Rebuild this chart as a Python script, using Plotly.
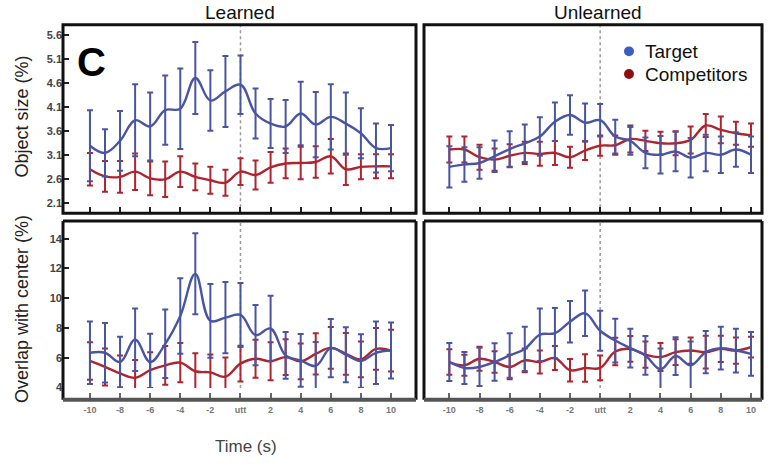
import plotly.graph_objects as go

# Time axis (seconds relative to utterance onset)
time_s = list(range(-10, 11))

# Object size (%) - Learned
size_learned_target = [3.30, 3.15, 3.40, 3.83, 3.70, 4.04, 4.07, 4.71, 4.24, 4.43, 4.57,
                       3.97, 3.76, 3.70, 3.97, 3.74, 3.90, 3.76, 3.56, 3.25, 3.25]
size_learned_target_err = [0.74, 0.49, 0.62, 0.75, 0.71, 0.72, 0.84, 0.75, 0.63, 0.74, 0.61,
                           0.52, 0.51, 0.55, 0.66, 0.68, 0.68, 0.65, 0.52, 0.51, 0.48]
size_learned_comp = [2.81, 2.66, 2.65, 2.76, 2.62, 2.60, 2.76, 2.65, 2.58, 2.53, 2.76,
                     2.69, 2.85, 2.93, 2.94, 2.96, 3.08, 2.81, 2.86, 2.87, 2.87]
size_learned_comp_err = [0.34, 0.32, 0.33, 0.38, 0.35, 0.37, 0.32, 0.28, 0.28, 0.27, 0.28,
                         0.30, 0.32, 0.31, 0.34, 0.33, 0.36, 0.33, 0.26, 0.25, 0.25]

# Object size (%) - Unlearned
size_unlearned_target = [2.86, 2.91, 2.94, 3.08, 3.23, 3.35, 3.49, 3.80, 3.94, 3.78, 3.83,
                         3.49, 3.40, 3.15, 3.11, 3.18, 3.05, 3.15, 3.11, 3.22, 3.11]
size_unlearned_target_err = [0.43, 0.36, 0.33, 0.33, 0.37, 0.39, 0.40, 0.40, 0.41, 0.40, 0.34,
                             0.35, 0.29, 0.32, 0.39, 0.41, 0.41, 0.38, 0.38, 0.36, 0.38]
size_unlearned_comp = [3.22, 3.22, 3.06, 3.01, 3.09, 3.15, 3.13, 3.15, 3.06, 3.20, 3.30,
                       3.31, 3.44, 3.40, 3.35, 3.35, 3.42, 3.72, 3.63, 3.56, 3.52]
size_unlearned_comp_err = [0.27, 0.27, 0.26, 0.23, 0.24, 0.23, 0.25, 0.25, 0.22, 0.20, 0.21,
                           0.20, 0.28, 0.21, 0.24, 0.25, 0.28, 0.24, 0.28, 0.24, 0.24]

# Overlap with center (%) - Learned
overlap_learned_target = [6.34, 6.34, 5.72, 7.22, 5.72, 6.94, 8.81, 11.64, 8.48, 8.70, 8.88,
                          7.53, 7.97, 6.16, 5.83, 5.46, 6.65, 6.21, 5.79, 6.34, 6.49]
overlap_learned_target_err = [2.10, 2.00, 1.70, 2.10, 1.90, 2.30, 2.54, 2.72, 2.48, 2.40, 2.15,
                              2.02, 2.20, 1.57, 1.77, 1.60, 1.96, 1.85, 1.80, 2.10, 1.88]
overlap_learned_comp = [5.79, 5.39, 4.95, 4.66, 5.17, 5.50, 5.68, 5.10, 5.02, 4.73, 5.61,
                        5.94, 5.77, 6.05, 5.77, 6.27, 6.67, 6.27, 5.90, 6.60, 6.49]
overlap_learned_comp_err = [1.26, 1.24, 1.20, 1.20, 1.20, 1.30, 1.32, 1.20, 1.20, 1.30, 1.20,
                            1.28, 1.27, 1.20, 1.20, 1.38, 1.40, 1.40, 1.20, 1.40, 1.40]

# Overlap with center (%) - Unlearned
overlap_unlearned_target = [5.72, 5.32, 5.39, 5.72, 6.16, 6.60, 7.55, 7.66, 8.42, 8.99, 7.82,
                            7.16, 6.65, 6.16, 5.24, 6.12, 5.50, 6.38, 6.65, 6.49, 6.27]
overlap_unlearned_target_err = [1.27, 1.07, 1.28, 1.26, 1.49, 1.49, 1.77, 1.68, 1.39, 1.53, 1.35,
                                1.47, 1.30, 1.30, 1.38, 1.27, 1.60, 1.42, 1.43, 1.47, 1.47]
overlap_unlearned_comp = [5.72, 5.50, 5.94, 5.72, 5.39, 5.83, 5.72, 5.99, 5.17, 5.32, 5.32,
                          6.43, 6.60, 6.21, 6.05, 6.38, 6.49, 6.38, 6.60, 6.49, 6.72]
overlap_unlearned_comp_err = [0.85, 0.70, 0.80, 0.72, 0.82, 0.80, 0.77, 0.80, 0.75, 0.92, 0.83,
                              0.92, 0.86, 0.88, 0.94, 0.86, 0.88, 1.10, 0.88, 0.88, 0.70]

size_ticks = [5.6, 5.1, 4.6, 4.1, 3.6, 3.1, 2.6, 2.1]
overlap_ticks = [14, 12, 10, 8, 6, 4]
time_ticks = [-10, -8, -6, -4, -2, 0, 2, 4, 6, 8, 10]
time_ticklabels = ["-10", "-8", "-6", "-4", "-2", "utt", "2", "4", "6", "8", "10"]

TARGET = "#4a55a2"
COMP = "#ad2530"
W, H = 768, 465


def px_x(p):
    return p / W


def px_y(p):
    return 1 - p / H


fig = go.Figure()

panels = [
    # (xaxis, yaxis, target, target_err, comp, comp_err)
    ("x", "y", size_learned_target, size_learned_target_err, size_learned_comp, size_learned_comp_err),
    ("x2", "y2", size_unlearned_target, size_unlearned_target_err, size_unlearned_comp, size_unlearned_comp_err),
    ("x3", "y3", overlap_learned_target, overlap_learned_target_err, overlap_learned_comp, overlap_learned_comp_err),
    ("x4", "y4", overlap_unlearned_target, overlap_unlearned_target_err, overlap_unlearned_comp, overlap_unlearned_comp_err),
]

for xa, ya, tv, te, cv, ce in panels:
    for vals, errs, col in ((cv, ce, COMP), (tv, te, TARGET)):
        fig.add_trace(go.Scatter(
            x=time_s, y=vals, xaxis=xa, yaxis=ya, mode="lines",
            line=dict(color=col, width=2.4, shape="spline", smoothing=1.1),
            error_y=dict(type="data", array=errs, visible=True, color=col,
                         thickness=2, width=3),
            showlegend=False, hoverinfo="skip",
        ))

# panel geometry in pixels
left_x = (63, 416)
right_x = (424, 762)
top_y = (25, 216)
bot_y = (224, 393)
bot_frame = 405

x_left_range = [-11.79, 11.66]
x_right_range = [-11.68, 10.73]
y_top_range = [1.894, 5.82]
y_bot_range = [3.98, 15.18]

common = dict(showgrid=False, zeroline=False, showline=False)
tickfont_y = dict(family="Liberation Sans, Arial", size=11, color="#444", weight="bold")
tickfont_x = dict(family="Liberation Sans, Arial", size=9, color="#777", weight="bold")

fig.update_layout(
    width=W, height=H,
    margin=dict(l=0, r=0, t=0, b=0),
    paper_bgcolor="white", plot_bgcolor="white",
    xaxis=dict(domain=[px_x(left_x[0]), px_x(left_x[1])], range=x_left_range, anchor="y",
               tickvals=time_ticks, ticks="inside", ticklen=6, tickwidth=1.5, tickcolor="#222",
               showticklabels=False, **common),
    xaxis2=dict(domain=[px_x(right_x[0]), px_x(right_x[1])], range=x_right_range, anchor="y2",
                tickvals=time_ticks, ticks="inside", ticklen=6, tickwidth=1.5, tickcolor="#222",
                showticklabels=False, **common),
    xaxis3=dict(domain=[px_x(left_x[0]), px_x(left_x[1])], range=x_left_range, anchor="free",
                position=px_y(bot_frame), tickvals=time_ticks, ticktext=time_ticklabels,
                ticks="inside", ticklen=7, tickwidth=1.5, tickcolor="#666",
                ticklabelstandoff=3, tickfont=tickfont_x, **common),
    xaxis4=dict(domain=[px_x(right_x[0]), px_x(right_x[1])], range=x_right_range, anchor="free",
                position=px_y(bot_frame), tickvals=time_ticks, ticktext=time_ticklabels,
                ticks="inside", ticklen=7, tickwidth=1.5, tickcolor="#666",
                ticklabelstandoff=3, tickfont=tickfont_x, **common),
    yaxis=dict(domain=[px_y(top_y[1]), px_y(top_y[0])], range=y_top_range, anchor="x",
               tickvals=size_ticks, ticktext=[f"{v:.1f}" for v in size_ticks],
               ticks="inside", ticklen=6, tickwidth=1.5, tickcolor="#222",
               tickfont=tickfont_y, **common),
    yaxis2=dict(domain=[px_y(top_y[1]), px_y(top_y[0])], range=y_top_range, anchor="x2",
                showticklabels=False, ticks="", **common),
    yaxis3=dict(domain=[px_y(bot_y[1]), px_y(bot_y[0])], range=y_bot_range, anchor="x3",
                tickvals=overlap_ticks, ticks="inside", ticklen=6, tickwidth=1.5, tickcolor="#222",
                tickfont=tickfont_y, **common),
    yaxis4=dict(domain=[px_y(bot_y[1]), px_y(bot_y[0])], range=y_bot_range, anchor="x4",
                showticklabels=False, ticks="", **common),
)

shapes = []
# dotted onset line in every panel
for xa, ya in (("x", "y"), ("x2", "y2"), ("x3", "y3"), ("x4", "y4")):
    shapes.append(dict(type="line", xref=xa, yref=f"{ya} domain", x0=0, x1=0, y0=0, y1=1,
                       line=dict(color="#9a9a9a", width=1.5, dash="dot"), layer="below"))

# panel frames
frame = dict(color="#111", width=3)
for xs in (left_x, right_x):
    shapes.append(dict(type="rect", xref="paper", yref="paper",
                       x0=px_x(xs[0]), x1=px_x(xs[1]), y0=px_y(top_y[1]), y1=px_y(top_y[0]),
                       line=frame))
    for xa, xb, ya, yb in ((xs[0], xs[0], bot_y[0], bot_frame),
                           (xs[1], xs[1], bot_y[0], bot_frame),
                           (xs[0], xs[1], bot_y[0], bot_y[0])):
        shapes.append(dict(type="line", xref="paper", yref="paper",
                           x0=px_x(xa), x1=px_x(xb), y0=px_y(ya), y1=px_y(yb), line=frame))
    shapes.append(dict(type="line", xref="paper", yref="paper",
                       x0=px_x(xs[0]), x1=px_x(xs[1]), y0=px_y(bot_frame), y1=px_y(bot_frame),
                       line=dict(color="#555", width=4)))

# legend dots
for cy, col in ((52, "#3b5cc4"), (75, "#8e0f12")):
    shapes.append(dict(type="circle", xref="paper", yref="paper",
                       x0=px_x(624), x1=px_x(634), y0=px_y(cy + 5), y1=px_y(cy - 5),
                       fillcolor=col, line=dict(width=0)))
fig.update_layout(shapes=shapes)

font = "Liberation Sans, Arial, sans-serif"
ann = [
    dict(text="Learned", x=px_x(240), y=px_y(13), font=dict(size=19, color="#111", family=font)),
    dict(text="Unlearned", x=px_x(598), y=px_y(13), font=dict(size=19, color="#111", family=font)),
    dict(text="Object size (%)", x=px_x(22), y=px_y(118), textangle=-90,
         font=dict(size=18, color="#222", family=font)),
    dict(text="Overlap with center (%)", x=px_x(22), y=px_y(313), textangle=-90,
         font=dict(size=18, color="#222", family=font)),
    dict(text="<b>C</b>", x=px_x(91), y=px_y(63), font=dict(size=40, color="#000", family=font)),
    dict(text="Time (s)", x=px_x(246), y=px_y(452), font=dict(size=17, color="#444", family=font)),
    dict(text="Target", x=px_x(643), y=px_y(52), xanchor="left",
         font=dict(size=19, color="#111", family=font)),
    dict(text="Competitors", x=px_x(643), y=px_y(75), xanchor="left",
         font=dict(size=19, color="#111", family=font)),
]
for a in ann:
    a.setdefault("xanchor", "center")
    fig.add_annotation(xref="paper", yref="paper", showarrow=False, yanchor="middle", **a)

fig.write_html("out.html")
